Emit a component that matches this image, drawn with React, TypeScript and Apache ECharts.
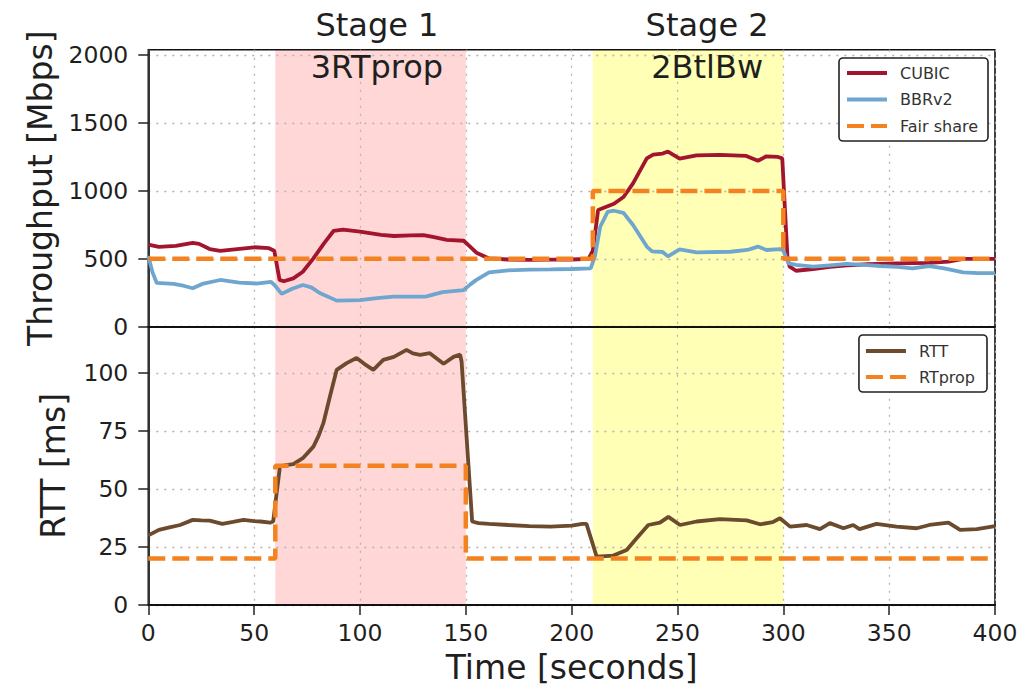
import React, { useEffect, useRef } from "react";
import * as echarts from "echarts";

// ---------- data ----------
const xTicks = [0, 50, 100, 150, 200, 250, 300, 350, 400];
const thrTicks = [0, 500, 1000, 1500, 2000];
const rttTicks = [0, 25, 50, 75, 100];

const stageTitles = ["Stage 1", "Stage 2"];
const stageSubtitles = ["3RTprop", "2BtlBw"];
const stageStart = [60, 210];
const stageEnd = [150, 300];
const stageLabelX = [108, 264];
const stageColors = ["#ffd7d7", "#ffffb6"];

const cubicT = [0, 5, 13, 21, 24, 29, 34, 42, 50, 57, 59.5, 62, 64, 68.5, 73, 78, 83, 87.5, 92, 100, 110, 116, 124, 130, 135, 141, 149, 152, 155, 161, 170, 180, 190, 200, 208, 210, 212.5, 220, 224.5, 229, 235.5, 238.5, 243, 245.5, 251, 259, 270, 282.5, 288, 292, 297.5, 299.5, 302, 303, 306, 314, 322, 330, 340, 353.5, 369, 378, 385, 400];
const cubicV = [605, 588, 595, 618, 610, 572, 558, 572, 585, 578, 560, 345, 335, 356, 405, 503, 614, 705, 715, 700, 677, 668, 672, 675, 660, 640, 633, 590, 545, 503, 495, 492, 494, 495, 500, 560, 860, 905, 955, 1056, 1240, 1268, 1275, 1290, 1238, 1262, 1265, 1258, 1222, 1255, 1250, 1240, 500, 442, 412, 425, 440, 452, 460, 466, 470, 480, 500, 500];

const bbrT = [0, 2, 4, 12, 17, 21, 26, 34, 43, 51, 58, 60, 63, 68, 73, 77, 81, 89, 100, 108, 116, 131, 139, 149, 152, 155, 161, 170, 180, 190, 200, 209, 211, 213.5, 217, 220, 224.5, 229, 235.5, 238, 243, 245.5, 251, 259, 275, 283, 288, 292, 298.5, 300, 302.5, 306, 314, 322, 330, 338, 346, 354, 361, 369, 376, 385, 392, 400];
const bbrV = [520, 400, 322, 315, 300, 283, 318, 344, 325, 318, 330, 300, 242, 280, 307, 290, 248, 192, 196, 210, 221, 222, 255, 270, 310, 345, 400, 415, 420, 422, 425, 430, 520, 736, 845, 854, 838, 749, 590, 555, 550, 518, 570, 548, 552, 565, 590, 565, 572, 560, 466, 455, 442, 452, 462, 455, 447, 440, 430, 447, 430, 400, 395, 395];

const fairT = [0, 210, 210, 300, 300, 400];
const fairV = [500, 500, 1000, 1000, 500, 500];

const rttT = [0, 5, 10, 15, 21, 25, 29, 35, 40, 45, 50, 53, 57.5, 59, 60.6, 62.2, 65, 68.5, 73, 78, 80.5, 82.7, 85.8, 89, 93.7, 98.4, 102, 106.3, 111, 116, 122, 125, 128.4, 133, 139.5, 144.2, 147.3, 148, 153, 156, 161, 170, 180, 190, 200, 205, 207, 211.8, 219.7, 226, 230.7, 236.2, 241.7, 245.7, 251.2, 259, 270, 282.7, 289, 295, 298.4, 303.2, 311, 317.3, 322, 328.4, 333, 336, 344, 353.5, 363, 369, 378, 383.5, 391.4, 400];
const rttV = [30, 32.4, 33.5, 34.5, 36.7, 36.5, 36.4, 35, 35.8, 36.7, 36.2, 36, 35.5, 36, 48, 59.7, 60.3, 60.7, 63.3, 68.3, 73, 78.4, 89.9, 101.4, 104.3, 106.5, 104, 101.4, 105.7, 107, 110, 108.5, 107.9, 108.6, 104, 107, 108, 105, 36, 35.3, 35, 34.5, 34, 33.8, 34.2, 35, 35, 20.9, 21.3, 23.7, 28.8, 34.5, 35.5, 38, 34.5, 36, 37, 36.5, 34.8, 35.7, 37.4, 33.8, 34.5, 32.7, 35.3, 33.1, 34.5, 32.7, 35, 33.8, 33.1, 34.5, 35.5, 32.4, 32.7, 34];

const rtpropT = [0, 60, 60, 150, 150, 400];
const rtpropV = [20, 20, 60, 60, 20, 20];

// ---------- helpers ----------
const zip = (t: number[], v: number[]) => t.map((x, i) => [x, v[i]]);
const FONT = "DejaVu Sans";
const TXT = "#1f1f1f";
const gridLine = { show: true, lineStyle: { color: "#b3b3b3", type: [2, 6], width: 1.3 } };
const plain = (v: number) => String(v);

const stageAreas = stageStart.map((s, i) => [
  { xAxis: s, itemStyle: { color: stageColors[i] } },
  { xAxis: stageEnd[i] },
]);

export default function App() {
  const ref = useRef<HTMLDivElement>(null);
  useEffect(() => {
    if (!ref.current) return;
    const chart = echarts.init(ref.current, null, { renderer: "svg" });
    const xAxisBase = {
      type: "value",
      min: 0,
      max: 400,
      interval: 50,
      splitLine: gridLine,
      axisLine: { show: true, onZero: false, lineStyle: { color: "#111", width: 1.8 } },
    };
    const yAxisBase = {
      type: "value",
      min: 0,
      splitLine: gridLine,
      axisLine: { show: true, onZero: false, lineStyle: { color: "#333", width: 2 } },
      axisTick: { show: true, length: 10, lineStyle: { color: "#222", width: 1.5 } },
      axisLabel: { fontSize: 23.5, fontFamily: FONT, color: TXT, margin: 20, formatter: plain },
      nameLocation: "middle",
      nameRotate: 90,
      nameTextStyle: { fontSize: 33, fontFamily: FONT, color: TXT },
    };
    const legendBase = {
      orient: "vertical",
      itemWidth: 40,
      itemHeight: 14,
      borderColor: "#222",
      borderWidth: 1.6,
      borderRadius: 4,
      backgroundColor: "#fff",
      itemStyle: { opacity: 0 },
      lineStyle: { width: 4 },
      textStyle: { fontSize: 16, fontFamily: FONT, color: "#333", padding: [0, 0, 0, 8] },
    };
    chart.setOption({
      animation: false,
      grid: [
        { left: 148.3, right: 40, top: 49.7, height: 277, show: true, borderColor: "#111", borderWidth: 1.6, backgroundColor: "transparent" },
        { left: 148.3, right: 40, top: 326.7, height: 278.3, show: true, borderColor: "#111", borderWidth: 1.6, backgroundColor: "transparent" },
      ],
      xAxis: [
        { ...xAxisBase, gridIndex: 0, axisLabel: { show: false }, axisTick: { show: false } },
        {
          ...xAxisBase,
          gridIndex: 1,
          axisTick: { show: true, length: 10, lineStyle: { color: "#222", width: 1.5 } },
          axisLabel: { fontSize: 23.5, fontFamily: FONT, color: TXT, margin: 16, customValues: xTicks, formatter: plain },
          name: "Time [seconds]",
          nameLocation: "middle",
          nameGap: 46,
          nameTextStyle: { fontSize: 33, fontFamily: FONT, color: TXT },
        },
      ],
      yAxis: [
        {
          ...yAxisBase,
          gridIndex: 0,
          max: 2040,
          interval: 500,
          name: "Throughput [Mbps]",
          nameGap: 91,
          axisTick: { ...yAxisBase.axisTick, customValues: thrTicks },
          axisLabel: { ...yAxisBase.axisLabel, customValues: thrTicks },
        },
        {
          ...yAxisBase,
          gridIndex: 1,
          max: 120,
          interval: 25,
          name: "RTT [ms]",
          nameGap: 78,
          axisTick: { ...yAxisBase.axisTick, customValues: rttTicks },
          axisLabel: { ...yAxisBase.axisLabel, customValues: rttTicks },
        },
      ],
      legend: [
        { ...legendBase, right: 47, top: 58, itemGap: 10.5, padding: [7, 10, 7, 6], data: ["CUBIC", "BBRv2", "Fair share"] },
        { ...legendBase, right: 48, top: 335, itemGap: 10, padding: [8, 12, 7, 5], data: ["RTT", "RTprop"] },
      ],
      series: [
        {
          name: "CUBIC",
          type: "line",
          xAxisIndex: 0,
          yAxisIndex: 0,
          data: zip(cubicT, cubicV),
          symbol: "none",
          color: "#a3142f",
          lineStyle: { width: 3.8, color: "#a3142f" },
          markArea: { silent: true, z: -1, data: stageAreas },
        },
        {
          name: "BBRv2",
          type: "line",
          xAxisIndex: 0,
          yAxisIndex: 0,
          data: zip(bbrT, bbrV),
          symbol: "none",
          color: "#6fa6cf",
          lineStyle: { width: 3.8, color: "#6fa6cf" },
        },
        {
          name: "Fair share",
          type: "line",
          xAxisIndex: 0,
          yAxisIndex: 0,
          data: zip(fairT, fairV),
          symbol: "none",
          color: "#f58220",
          lineStyle: { width: 4.5, color: "#f58220", type: [17, 7] },
        },
        {
          name: "RTT",
          type: "line",
          xAxisIndex: 1,
          yAxisIndex: 1,
          data: zip(rttT, rttV),
          symbol: "none",
          color: "#6b4a2e",
          lineStyle: { width: 3.8, color: "#6b4a2e" },
          markArea: { silent: true, z: -1, data: stageAreas },
        },
        {
          name: "RTprop",
          type: "line",
          xAxisIndex: 1,
          yAxisIndex: 1,
          data: zip(rtpropT, rtpropV),
          symbol: "none",
          color: "#f58220",
          lineStyle: { width: 4.5, color: "#f58220", type: [17, 7] },
        },
      ],
    });
    const texts: any[] = [];
    stageLabelX.forEach((x, i) => {
      const px = chart.convertToPixel({ xAxisIndex: 0 }, x) as number;
      texts.push({
        type: "text",
        x: px,
        y: 25,
        z: 100,
        style: { text: stageTitles[i], fontSize: 32, fontFamily: FONT, fill: TXT, align: "center", verticalAlign: "middle" },
      });
      texts.push({
        type: "text",
        x: px,
        y: 67,
        z: 100,
        style: { text: stageSubtitles[i], fontSize: 32, fontFamily: FONT, fill: TXT, align: "center", verticalAlign: "middle" },
      });
    });
    chart.setOption({ graphic: texts });
    return () => chart.dispose();
  }, []);
  return <div ref={ref} style={{ position: "absolute", left: 0, top: 0, width: 1035, height: 692 }} />;
}
